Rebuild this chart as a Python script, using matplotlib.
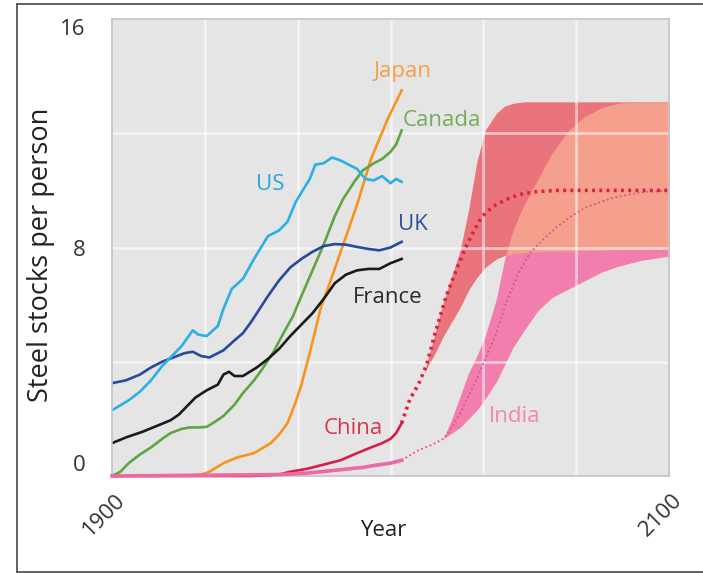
import numpy as np
import matplotlib
matplotlib.use("Agg")
import matplotlib.pyplot as plt
from matplotlib.lines import Line2D
from matplotlib.transforms import ScaledTranslation

plt.rcParams['font.family'] = ['Open Sans', 'DejaVu Sans']

# historical steel stocks per person (tonnes)
us_years = [1900, 1906, 1910, 1914, 1918, 1921, 1925, 1929, 1931, 1934, 1938, 1940, 1943, 1947,
            1951, 1956, 1960, 1963, 1966, 1971, 1973, 1976, 1979, 1982, 1985, 1988, 1991, 1994,
            1997, 2000, 2002, 2004]
us_vals = [2.3, 2.65, 2.95, 3.35, 3.85, 4.15, 4.55, 5.1, 4.95, 4.9, 5.25, 5.85, 6.55, 6.9,
           7.6, 8.4, 8.6, 8.9, 9.6, 10.4, 10.9, 10.95, 11.15, 11.05, 10.9, 10.75, 10.4, 10.35,
           10.5, 10.25, 10.4, 10.3]

uk_years = [1900, 1905, 1910, 1914, 1918, 1922, 1926, 1929, 1932, 1935, 1940, 1944, 1947, 1950,
            1953, 1956, 1960, 1964, 1968, 1972, 1976, 1980, 1984, 1988, 1992, 1996, 2000, 2004]
uk_vals = [3.25, 3.35, 3.55, 3.8, 4.0, 4.15, 4.3, 4.35, 4.2, 4.15, 4.4, 4.75, 5.0, 5.4,
           5.85, 6.3, 6.85, 7.3, 7.6, 7.85, 8.05, 8.12, 8.1, 8.02, 7.95, 7.9, 8.0, 8.2]

france_years = [1900, 1905, 1911, 1916, 1921, 1924, 1927, 1930, 1934, 1938, 1940, 1942, 1944, 1947,
                1952, 1956, 1960, 1964, 1968, 1972, 1976, 1980, 1984, 1988, 1992, 1996, 2000, 2004]
france_vals = [1.15, 1.35, 1.55, 1.75, 1.95, 2.15, 2.45, 2.75, 3.0, 3.2, 3.55, 3.65, 3.5, 3.5,
               3.8, 4.1, 4.45, 4.9, 5.3, 5.7, 6.2, 6.75, 7.05, 7.2, 7.25, 7.25, 7.45, 7.6]

canada_years = [1900, 1903, 1906, 1910, 1914, 1918, 1921, 1925, 1928, 1931, 1934, 1937, 1940, 1944,
                1947, 1951, 1954, 1958, 1961, 1965, 1968, 1972, 1976, 1980, 1983, 1987, 1990, 1994,
                1997, 2000, 2002, 2004]
canada_vals = [0, 0.15, 0.45, 0.75, 1.0, 1.3, 1.5, 1.65, 1.7, 1.7, 1.72, 1.9, 2.1, 2.5,
               2.9, 3.35, 3.75, 4.35, 4.9, 5.6, 6.3, 7.2, 8.1, 9.1, 9.7, 10.3, 10.7, 10.95,
               11.1, 11.35, 11.6, 12.1]

japan_years = [1900, 1925, 1932, 1935, 1940, 1945, 1951, 1957, 1960, 1963, 1966, 1968, 1971, 1975,
               1978, 1983, 1988, 1993, 1999, 2004]
japan_vals = [0, 0, 0.05, 0.15, 0.45, 0.65, 0.8, 1.15, 1.45, 1.85, 2.6, 3.2, 4.3, 5.9,
              6.7, 8.1, 9.5, 11.1, 12.5, 13.5]

china_years = [1900, 1950, 1960, 1964, 1970, 1976, 1982, 1988, 1993, 1997, 2000, 2002, 2004]
china_vals = [0, 0, 0.05, 0.15, 0.25, 0.4, 0.55, 0.8, 1.0, 1.15, 1.3, 1.5, 1.85]

india_years = [1900, 1960, 1970, 1980, 1990, 1995, 2000, 2004]
india_vals = [0, 0.05, 0.1, 0.2, 0.3, 0.38, 0.45, 0.55]

# projections
china_proj_years = [2004, 2007, 2010, 2013, 2016, 2020, 2024, 2027, 2030, 2033, 2037, 2042,
                    2046, 2052, 2060, 2070, 2080, 2100]
china_proj_vals = [1.85, 2.7, 3.2, 3.9, 5.0, 6.3, 7.3, 8.0, 8.6, 9.1, 9.45, 9.7,
                   9.85, 9.95, 10.0, 10.0, 10.0, 10.0]

india_proj_years = [2004, 2010, 2015, 2019, 2022, 2025, 2028, 2031, 2034, 2038, 2042, 2046,
                    2050, 2055, 2060, 2065, 2070, 2080, 2090, 2100]
india_proj_vals = [0.55, 0.9, 1.1, 1.3, 1.7, 2.2, 2.8, 3.4, 4.1, 5.0, 6.2, 7.1,
                   7.8, 8.3, 8.75, 9.1, 9.4, 9.75, 9.93, 10.0]

band_years = [2012, 2016, 2019, 2022, 2025, 2028, 2031, 2034, 2038, 2041, 2044, 2048, 2053,
              2058, 2064, 2070, 2076, 2082, 2090, 2100]
china_hi = [3.6, 5.0, 6.1, 7.0, 7.9, 9.3, 11.0, 12.1, 12.7, 12.95, 13.05, 13.1, 13.1,
            13.1, 13.1, 13.1, 13.1, 13.1, 13.1, 13.1]
china_lo = [3.6, 4.3, 4.9, 5.4, 5.9, 6.5, 6.95, 7.3, 7.6, 7.72, 7.78, 7.82, 7.85,
            7.87, 7.88, 7.9, 7.9, 7.92, 7.93, 7.95]
india_hi = [np.nan, np.nan, 1.3, 2.0, 2.8, 3.6, 4.2, 4.9, 6.2, 7.6, 8.6, 9.5, 10.4,
            11.3, 12.1, 12.6, 12.9, 13.05, 13.1, 13.1]
india_lo = [np.nan, np.nan, 1.3, 1.5, 1.7, 2.0, 2.3, 2.7, 3.3, 3.9, 4.5, 5.1, 5.8,
            6.25, 6.55, 6.85, 7.15, 7.35, 7.55, 7.7]

grid_years = np.linspace(1900, 2100, 7)


def main():
    fig = plt.figure(figsize=(7.03, 5.73), dpi=100)
    ax = fig.add_axes([112 / 703, 1 - 476 / 573, 557 / 703, 457 / 573])
    ax.set_facecolor('#e5e5e5')

    # projection bands, with the overlap drawn in a lighter salmon
    ch_lo, ch_hi = np.array(china_lo), np.array(china_hi)
    in_lo, in_hi = np.array(india_lo), np.array(india_hi)
    ax.fill_between(band_years, ch_lo, ch_hi, color='#e9747b', lw=0, zorder=1)
    ax.fill_between(band_years, in_lo, in_hi, color='#f27eae', lw=0, zorder=1)
    ov_lo = np.maximum(ch_lo, in_lo)
    ov_hi = np.minimum(ch_hi, in_hi)
    ax.fill_between(band_years, ov_lo, ov_hi, where=ov_hi > ov_lo, interpolate=True,
                    color='#f5a08c', lw=0, zorder=1.1)

    # grid over the bands but under the lines
    for gx in grid_years[1:-1]:
        ax.axvline(gx, color='white', lw=2, alpha=0.55, zorder=1.5)
    for gy in [4, 8, 12]:
        ax.axhline(gy, color='white', lw=2, alpha=0.55, zorder=1.5)

    # projections
    ax.plot(india_proj_years, india_proj_vals, color='#e2508c', lw=1.3, ls=(0, (1, 1.5)), zorder=2)
    ax.plot(china_proj_years, china_proj_vals, color='#e0203f', lw=2.6, ls=(0, (0.8, 1.2)), zorder=2)

    # history
    lw = 1.9
    ax.plot(china_years, china_vals, color='#d81e48', lw=lw, zorder=3, clip_on=False)
    ax.plot(india_years, india_vals, color='#ec6aa2', lw=2.6, zorder=3.1, clip_on=False)
    ax.plot(japan_years, japan_vals, color='#f7941e', lw=lw, zorder=2)
    ax.plot(canada_years, canada_vals, color='#5ea642', lw=lw, zorder=2)
    ax.plot(france_years, france_vals, color='#1a1a1a', lw=lw, zorder=2)
    ax.plot(uk_years, uk_vals, color='#264b9c', lw=lw, zorder=2)
    ax.plot(us_years, us_vals, color='#2ab0e4', lw=lw, zorder=2)

    # country labels
    fs = 16
    ax.text(1957, 10.2, 'US', color='#2aa6dc', fontsize=fs, ha='center', va='center')
    ax.text(2004.3, 14.15, 'Japan', color='#f59f48', fontsize=fs, ha='center', va='center')
    ax.text(2018.3, 12.45, 'Canada', color='#74ad5a', fontsize=fs, ha='center', va='center')
    ax.text(2008, 8.8, 'UK', color='#2f4f9c', fontsize=fs, ha='center', va='center')
    ax.text(1999, 6.25, 'France', color='#2b2b2b', fontsize=fs, ha='center', va='center')
    ax.text(1986.5, 1.68, 'China', color='#d9364f', fontsize=fs, ha='center', va='center')
    ax.text(2044.5, 2.07, 'India', color='#ef86b4', fontsize=fs, ha='center', va='center')

    ax.set_xlim(1900, 2100)
    ax.set_ylim(0, 16)
    ax.set_xticks([1900, 2100])
    ax.set_xticklabels(['1900', '2100'], rotation=45, ha='right', va='top',
                       rotation_mode='anchor', fontsize=16, color='#333333')
    ax.set_yticks([0, 8, 16])
    ax.set_yticklabels(['0', '8', '16'], fontsize=16, color='#333333')
    ylabels = ax.get_yticklabels()
    ylabels[0].set_va('bottom')
    ylabels[2].set_va('top')
    ax.tick_params(axis='both', length=0)
    ax.tick_params(axis='y', pad=19)
    ax.tick_params(axis='x', pad=10)
    for lab in ax.get_xticklabels():
        lab.set_transform(lab.get_transform() + ScaledTranslation(0.03, 0, fig.dpi_scale_trans))

    for s in ax.spines.values():
        s.set_color('#c4c4c4')
        s.set_linewidth(1.2)

    fig.text(383 / 703, 1 - 531 / 573, 'Year', fontsize=16, color='#222222', ha='center', va='center')
    fig.text(41 / 703, 1 - 255 / 573, 'Steel stocks per person', fontsize=19.5, color='#222222',
             rotation=90, ha='center', va='center')

    # outer frame (top, left, bottom)
    fig.add_artist(Line2D([17 / 703, 1.0], [1 - 3.5 / 573] * 2, color='#555555', lw=1.3))
    fig.add_artist(Line2D([17 / 703] * 2, [1 - 3.5 / 573, 1 - 571.5 / 573], color='#555555', lw=1.3))
    fig.add_artist(Line2D([17 / 703, 1.0], [1 - 571.5 / 573] * 2, color='#555555', lw=1.3))

    fig.savefig('out.png', dpi=100)


if __name__ == '__main__':
    main()
